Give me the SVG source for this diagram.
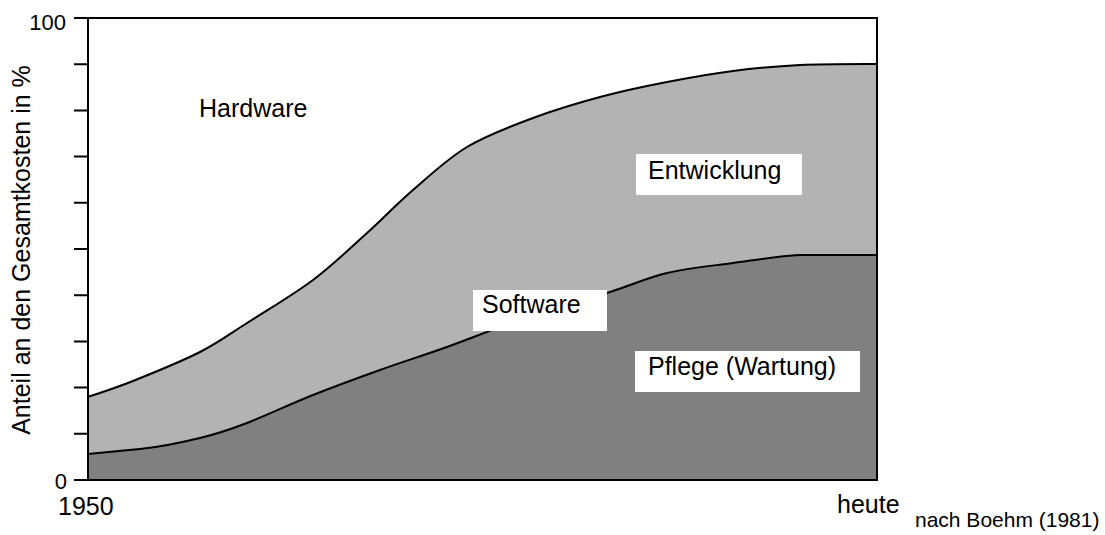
<svg xmlns="http://www.w3.org/2000/svg" width="1105" height="535" viewBox="0 0 1105 535">
<style>
text{font-family:"Liberation Sans",Arial,sans-serif;fill:#000}
.lbl{font-size:25px}
.tick{font-size:22px}
.curve{fill:none;stroke:#000;stroke-width:2;stroke-linejoin:round}
.box{fill:#fff}
</style>
<rect width="1105" height="535" fill="#fff"/>
<g id="areas">
<path id="software-area" fill="#b3b3b3" d="M88,397 C95.5,394.3 114.3,388.5 133,381 C151.7,373.5 181,361.7 200,352 C219,342.3 228.2,335 247,323 C265.8,311 293,295 313,280 C333,265 350.3,248 367,233 C383.7,218 396.3,204.3 413,190 C429.7,175.7 447,159 467,147 C487,135 510.8,126.3 533,118 C555.2,109.7 577.7,103 600,97 C622.3,91 644.8,86.3 667,82 C689.2,77.7 710.8,73.8 733,71 C755.2,68.2 776,66.2 800,65 C824,63.8 864.2,64 877,64 L877,480 L88,480 Z"/>
<path id="pflege-area" fill="#808080" d="M88,454 C96.7,453.2 121.3,450.8 140,449 C158.7,447.2 182.2,442.3 200,438 C217.8,433.7 228.2,430.2 247,423 C265.8,415.8 290.8,403.8 313,395 C335.2,386.2 357.7,378 380,370 C402.3,362 423.7,355.3 447,347 C470.3,338.7 493.3,329 520,320 C546.7,311 582.5,300.8 607,293 C631.5,285.2 646,278 667,273 C688,268 710.8,266 733,263 C755.2,260 776,256.3 800,255 C824,255 864,255 877,255 L877,480 L88,480 Z"/>
</g>
<g id="connectors">
<path class="curve" d="M88,397 C95.5,394.3 114.3,388.5 133,381 C151.7,373.5 181,361.7 200,352 C219,342.3 228.2,335 247,323 C265.8,311 293,295 313,280 C333,265 350.3,248 367,233 C383.7,218 396.3,204.3 413,190 C429.7,175.7 447,159 467,147 C487,135 510.8,126.3 533,118 C555.2,109.7 577.7,103 600,97 C622.3,91 644.8,86.3 667,82 C689.2,77.7 710.8,73.8 733,71 C755.2,68.2 776,66.2 800,65 C824,63.8 864.2,64 877,64"/>
<path class="curve" d="M88,454 C96.7,453.2 121.3,450.8 140,449 C158.7,447.2 182.2,442.3 200,438 C217.8,433.7 228.2,430.2 247,423 C265.8,415.8 290.8,403.8 313,395 C335.2,386.2 357.7,378 380,370 C402.3,362 423.7,355.3 447,347 C470.3,338.7 493.3,329 520,320 C546.7,311 582.5,300.8 607,293 C631.5,285.2 646,278 667,273 C688,268 710.8,266 733,263 C755.2,260 776,256.3 800,255 C824,255 864,255 877,255"/>
</g>
<g id="axes" stroke="#000" stroke-width="2" fill="none">
<rect x="88" y="18" width="789" height="462"/>
<path d="M74,18H88M74,64.2H88M74,110.4H88M74,156.6H88M74,202.8H88M74,249H88M74,295.2H88M74,341.4H88M74,387.6H88M74,433.8H88M74,480H88"/>
</g>
<g id="axis-labels">
<text class="tick" x="66" y="30" text-anchor="end">100</text>
<text class="tick" x="67" y="489" text-anchor="end">0</text>
<text class="lbl" x="58" y="515">1950</text>
<text class="lbl" x="837" y="513">heute</text>
<text x="915" y="527" font-size="21">nach Boehm (1981)</text>
<text class="lbl" transform="translate(30,250) rotate(-90)" text-anchor="middle">Anteil an den Gesamtkosten in %</text>
</g>
<g id="hardware"><text class="lbl" x="199" y="117">Hardware</text></g>
<g id="entwicklung"><rect class="box" x="636" y="154" width="166" height="41"/><text class="lbl" x="648" y="179">Entwicklung</text></g>
<g id="software"><rect class="box" x="473" y="290" width="134" height="41"/><text class="lbl" x="482" y="313">Software</text></g>
<g id="pflege"><rect class="box" x="635" y="351" width="225" height="41"/><text class="lbl" x="648" y="375">Pflege (Wartung)</text></g>
</svg>
